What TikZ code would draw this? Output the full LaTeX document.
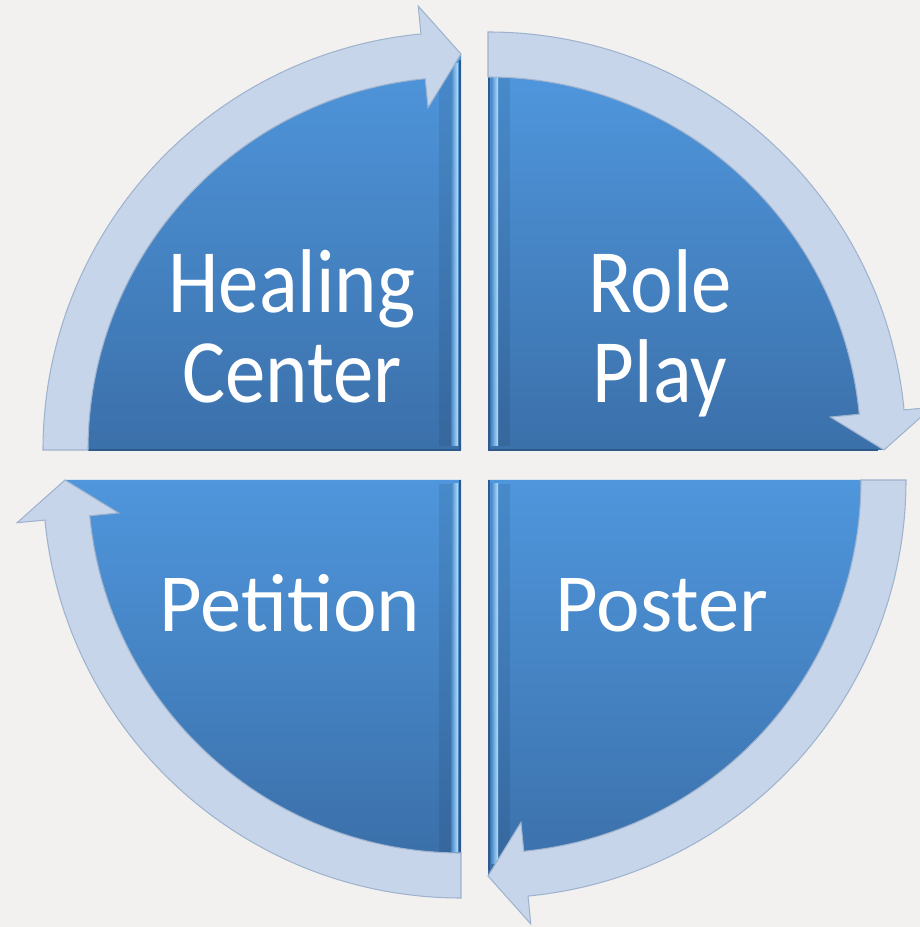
\documentclass[tikz,border=0pt]{standalone}
\usepackage{tikz}
\usetikzlibrary{shapes.geometric, arrows}
\usepackage{xcolor}
\usepackage{fontspec}
\setmainfont{Carlito}
\definecolor{sectortop}{HTML}{4F96DC}
\definecolor{sectorbottom}{HTML}{3B70AA}
\definecolor{ringfill}{HTML}{C6D5EA}
\definecolor{ringline}{HTML}{9FB3CE}
\definecolor{bevellight}{HTML}{B4E2FA}
\definecolor{edgedark}{HTML}{2D5A8C}
\definecolor{bgpaper}{HTML}{F2F1EF}
\tikzstyle{quadsector} = [top color=sectortop, 
bottom color=sectorbottom]
\tikzstyle{bevelstrip} = [left color=sectortop!60!sectorbottom, 
right color=bevellight]
\tikzstyle{bevelshade} = [fill=black, 
opacity=0.08]
\tikzstyle{ringarrow} = [fill=ringfill, 
draw=ringline, 
line width=0.6pt, 
line join=miter]
\tikzstyle{edgeline} = [draw=edgedark, line width=1.2pt]
\tikzstyle{toptext} = [text=white, 
font=\fontsize{46pt}{46pt}\selectfont, 
align=center, 
inner sep=0pt, 
text depth=0pt, 
anchor=south, 
yscale=1.12, 
transform shape]
\tikzstyle{bottomtext} = [text=white, 
font=\fontsize{47pt}{52pt}\selectfont, 
align=center, 
inner sep=0pt, 
text depth=0pt, 
anchor=south]

\begin{document}
\begin{tikzpicture}[x=0.02cm, y=0.02cm]
			
			\useasboundingbox (0,0) rectangle (920,927);
			\fill[bgpaper] (0,0) rectangle (920,927);
			
			% top left quarter
			\begin{scope}[shift={(461,477)}]
				\path[quadsector] (0,0) -- (180:373) arc[start angle=180, end angle=96, radius=373] -- (90:396) -- cycle;
				\path[bevelshade] (-22,4) rectangle (-10,382);
				\path[bevelstrip] (-10,4) rectangle (-3,386);
				\draw[edgeline] (-1,0) -- (-1,390);
				\draw[edgeline] (0,0) -- (180:373);
				\filldraw[ringarrow] (180:373) arc[start angle=180, end angle=95.5, radius=373] -- (95.5:344) -- (90:396) -- (95.5:446) -- (95.5:418) arc[start angle=95.5, end angle=180, radius=418] -- cycle;
			\end{scope}
			
			% top right quarter
			\begin{scope}[shift={(488,477)}]
				\path[quadsector] (0,0) -- (90:373) arc[start angle=90, end angle=6, radius=373] -- (0:396) -- cycle;
				\path[bevelshade] (10,4) rectangle (22,372);
				\path[bevelstrip] (10,4) rectangle (3,372);
				\draw[edgeline] (1,0) -- (1,373);
				\draw[edgeline] (0,0) -- (0:390);
				\filldraw[ringarrow] (90:373) arc[start angle=90, end angle=5.5, radius=373] -- (5.5:344) -- (0:396) -- (5.5:446) -- (5.5:418) arc[start angle=5.5, end angle=90, radius=418] -- cycle;
			\end{scope}
			
			% bottom right quarter
			\begin{scope}[shift={(488,447)}]
				\path[quadsector] (0,0) -- (0:373) arc[start angle=0, end angle=-84, radius=373] -- (-90:396) -- cycle;
				\path[bevelshade] (10,-4) rectangle (22,-376);
				\path[bevelstrip] (10,-4) rectangle (3,-384);
				\draw[edgeline] (1,0) -- (1,-390);
				\filldraw[ringarrow] (0:373) arc[start angle=0, end angle=-84.5, radius=373] -- (-84.5:344) -- (-90:396) -- (-84.5:446) -- (-84.5:418) arc[start angle=-84.5, end angle=0, radius=418] -- cycle;
			\end{scope}
			
			% bottom left quarter
			\begin{scope}[shift={(461,447)}]
				\path[quadsector] (0,0) -- (-90:373) arc[start angle=-90, end angle=-174, radius=373] -- (180:396) -- cycle;
				\path[bevelshade] (-22,-4) rectangle (-10,-372);
				\path[bevelstrip] (-10,-4) rectangle (-3,-372);
				\draw[edgeline] (-1,0) -- (-1,-373);
				\filldraw[ringarrow] (-90:373) arc[start angle=-90, end angle=-174.5, radius=373] -- (-174.5:344) -- (-180:396) -- (-174.5:446) -- (-174.5:418) arc[start angle=-174.5, end angle=-90, radius=418] -- cycle;
			\end{scope}
			
			\node[toptext] (healing) at (292,524) {Healing\\Center};
			\node[toptext] (roleplay) at (660,524) {Role\\Play};
			\node[bottomtext] (petition) at (290,295) {Petition};
			\node[bottomtext] (poster) at (662,295) {Poster};
			
		\end{tikzpicture}
\end{document}
